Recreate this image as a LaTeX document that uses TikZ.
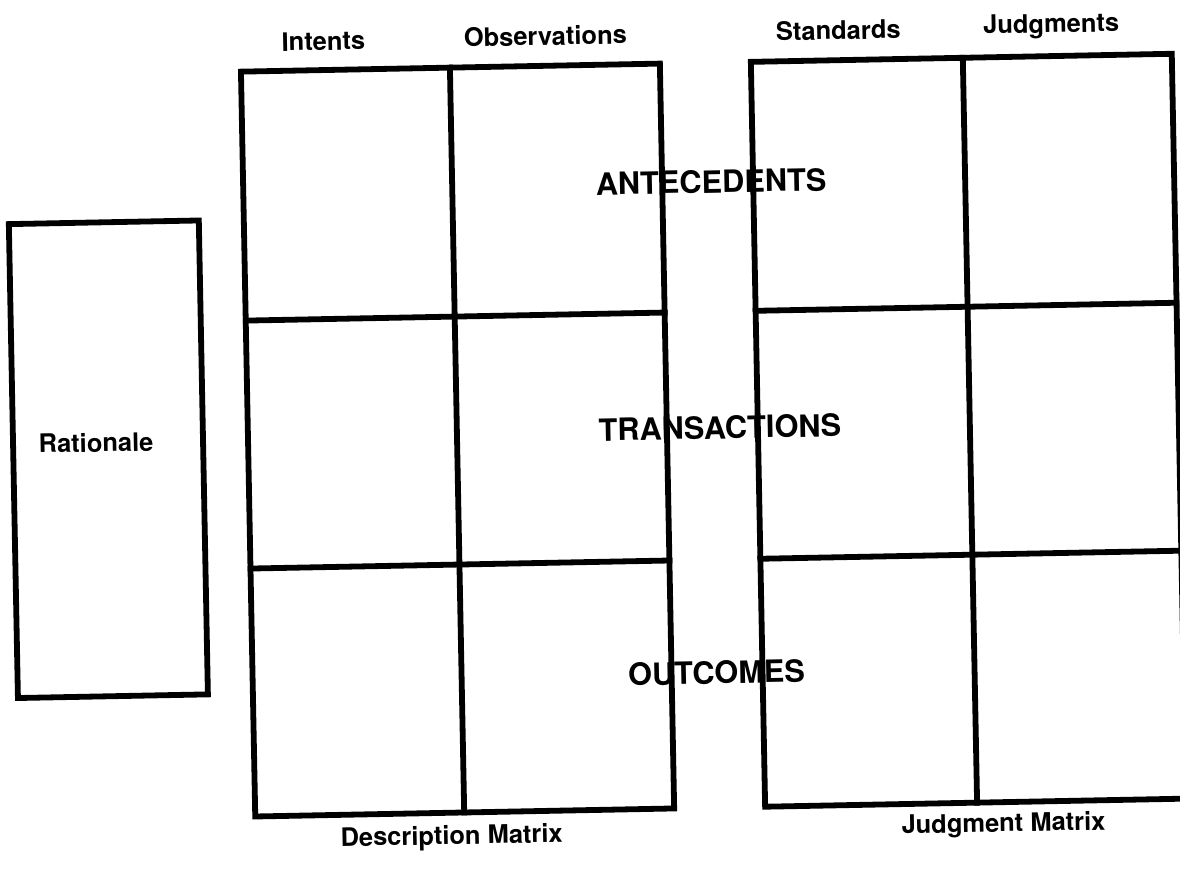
\documentclass[tikz,border=0pt]{standalone}
\usepackage{fontspec}
\setmainfont{TeX Gyre Heros}

\begin{document}
\begin{tikzpicture}[x=0.02cm, y=-0.02cm]

      \tikzstyle{Frame}=[line width=3.3pt, line cap=rect];
      \tikzstyle{Head}=[font=\bfseries\fontsize{14.5}{18}\selectfont];
      \tikzstyle{Row}=[font=\bfseries\fontsize{17.5}{20}\selectfont];

        \clip (0,0) rectangle (1180,873);

        \begin{scope}[rotate around={1.1:(590,436)}, transform shape]

        % left box
        \draw[Frame] (13,213) rectangle (203,687);
        \node[Head](Rat) at (96,433) {Rationale};

        % description matrix
        \draw[Frame] (248,65) rectangle (667,810);
        \draw[Frame] (457,65) -- (457,810);
        \draw[Frame] (248,314) -- (667,314);
        \draw[Frame] (248,562) -- (667,562);

        \node[Head](Int) at (331,36) {Intents};
        \node[Head](Obs) at (553,35) {Observations};
        \node[Head](DesMat) at (444,835) {Description Matrix};

        % judgment matrix
        \draw[Frame] (758,65) rectangle (1179,810);
        \draw[Frame] (970,65) -- (970,810);
        \draw[Frame] (758,314) -- (1179,314);
        \draw[Frame] (758,562) -- (1179,562);

        \node[Head](Sta) at (846,35) {Standards};
        \node[Head](Jud) at (1059,35) {Judgments};
        \node[Head](JudMat) at (996,833) {Judgment Matrix};

        % rows
        \node[Row](Ant) at (716,184) {ANTECEDENTS};
        \node[Row](Tra) at (720,430) {TRANSACTIONS};
        \node[Row](Out) at (712,675) {OUTCOMES};

        \end{scope}

    \end{tikzpicture}
\end{document}
